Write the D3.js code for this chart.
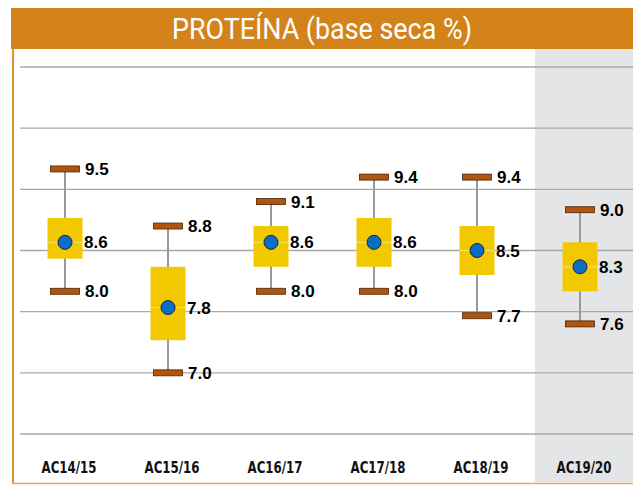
<!DOCTYPE html>
<html>
<head>
<meta charset="utf-8">
<script src="https://cdn.jsdelivr.net/npm/d3@7"></script>
<style>
  body { margin: 0; background: #fff; }
  svg { display: block; }
</style>
</head>
<body>
<div id="chart"></div>
<script>
// datos por campaña
const categories = ["AC14/15", "AC15/16", "AC16/17", "AC17/18", "AC18/19", "AC19/20"];
const minValues  = [8.0, 7.0, 8.0, 8.0, 7.7, 7.6];
const maxValues  = [9.5, 8.8, 9.1, 9.4, 9.4, 9.0];
const q1Values   = [8.4, 7.4, 8.3, 8.3, 8.2, 8.0];
const q3Values   = [8.9, 8.3, 8.8, 8.9, 8.8, 8.6];
const meanValues = [8.6, 7.8, 8.6, 8.6, 8.5, 8.3];
const gridTicks  = [6.25, 7.0, 7.75, 8.5, 9.25, 10.0, 10.75];
const titleText  = "PROTEÍNA (base seca %)";

const W = 633, H = 486;
const svg = d3.select("#chart").append("svg")
  .attr("width", W)
  .attr("height", H);

const x = d3.scaleBand()
  .domain(categories)
  .range([13.5, 631.5])
  .padding(0);

const y = d3.scaleLinear()
  .domain([6.25, 10.75])
  .range([434, 67]);

const cx = c => x(c) + x.bandwidth() / 2;

// fondo gris de la última campaña
const last = categories[categories.length - 1];
svg.append("rect")
  .attr("x", cx(last) - 45)
  .attr("y", 48)
  .attr("width", W - (cx(last) - 45))
  .attr("height", 434)
  .attr("fill", "#e4e5e7");

// líneas de la grilla
svg.append("g")
  .selectAll("line")
  .data(gridTicks)
  .enter()
  .append("line")
  .attr("x1", 20)
  .attr("x2", W)
  .attr("y1", d => y(d))
  .attr("y2", d => y(d))
  .attr("stroke", "#a9a9a9")
  .attr("stroke-width", 1.3);

// marco naranja
svg.append("rect")
  .attr("x", 11)
  .attr("y", 8)
  .attr("width", W - 11)
  .attr("height", 41)
  .attr("fill", "#d3831a");

svg.append("line")
  .attr("x1", 13).attr("x2", 13)
  .attr("y1", 48).attr("y2", 484)
  .attr("stroke", "#e0922e")
  .attr("stroke-width", 2);

svg.append("line")
  .attr("x1", 12).attr("x2", W)
  .attr("y1", 483.5).attr("y2", 483.5)
  .attr("stroke", "#e8a74e")
  .attr("stroke-width", 1.5);

svg.append("text")
  .attr("x", 322)
  .attr("y", 39)
  .attr("text-anchor", "middle")
  .attr("textLength", 300)
  .attr("lengthAdjust", "spacingAndGlyphs")
  .style("font-family", "Roboto, 'DejaVu Sans Condensed', sans-serif")
  .style("font-size", "29px")
  .style("fill", "#fff")
  .text(titleText);

const data = categories.map((c, i) => ({
  cat: c, min: minValues[i], max: maxValues[i],
  q1: q1Values[i], q3: q3Values[i], mean: meanValues[i]
}));

const groups = svg.selectAll(".caja")
  .data(data)
  .enter()
  .append("g")
  .attr("class", "caja");

// bigote
groups.append("line")
  .attr("x1", d => cx(d.cat)).attr("x2", d => cx(d.cat))
  .attr("y1", d => y(d.max)).attr("y2", d => y(d.min))
  .attr("stroke", "#999")
  .attr("stroke-width", 2);

// caja
groups.append("rect")
  .attr("x", d => cx(d.cat) - 17.5)
  .attr("y", d => y(d.q3))
  .attr("width", 35)
  .attr("height", d => y(d.q1) - y(d.q3))
  .attr("fill", "#f2c800");

groups.append("line")
  .attr("x1", d => cx(d.cat) - 17.5).attr("x2", d => cx(d.cat) + 17.5)
  .attr("y1", d => y(d.mean)).attr("y2", d => y(d.mean))
  .attr("stroke", "#f8e27c")
  .attr("stroke-width", 1);

// topes
["max", "min"].forEach(k => {
  groups.append("rect")
    .attr("x", d => cx(d.cat) - 14.5)
    .attr("y", d => y(d[k]) - 3)
    .attr("width", 29)
    .attr("height", 6)
    .attr("fill", "#b0550f")
    .attr("stroke", "#4a2406")
    .attr("stroke-width", 0.8);

  groups.append("text")
    .attr("x", d => cx(d.cat) + 20)
    .attr("y", d => y(d[k]))
    .attr("dy", "0.36em")
    .style("font-family", "'Liberation Sans', Arial, sans-serif")
    .style("font-weight", "bold")
    .style("font-size", "17px")
    .style("fill", "#000")
    .text(d => d3.format(".1f")(d[k]));
});

// promedio
groups.append("circle")
  .attr("cx", d => cx(d.cat))
  .attr("cy", d => y(d.mean))
  .attr("r", 7)
  .attr("fill", "#0b6dc4")
  .attr("stroke", "#15263a")
  .attr("stroke-width", 1);

groups.append("text")
  .attr("x", d => cx(d.cat) + 19)
  .attr("y", d => y(d.mean))
  .attr("dy", "0.36em")
  .style("font-family", "'Liberation Sans', Arial, sans-serif")
  .style("font-weight", "bold")
  .style("font-size", "17px")
  .style("fill", "#000")
  .text(d => d3.format(".1f")(d.mean));

// etiquetas de categorías
svg.append("g")
  .selectAll("text")
  .data(categories)
  .enter()
  .append("text")
  .attr("x", d => cx(d) + 4)
  .attr("y", 473)
  .attr("text-anchor", "middle")
  .attr("textLength", 55)
  .attr("lengthAdjust", "spacingAndGlyphs")
  .style("font-family", "'DejaVu Sans Condensed', 'Liberation Sans', sans-serif")
  .style("font-stretch", "condensed")
  .style("font-weight", "bold")
  .style("font-size", "15px")
  .style("fill", "#111")
  .text(d => d);
</script>
</body>
</html>
